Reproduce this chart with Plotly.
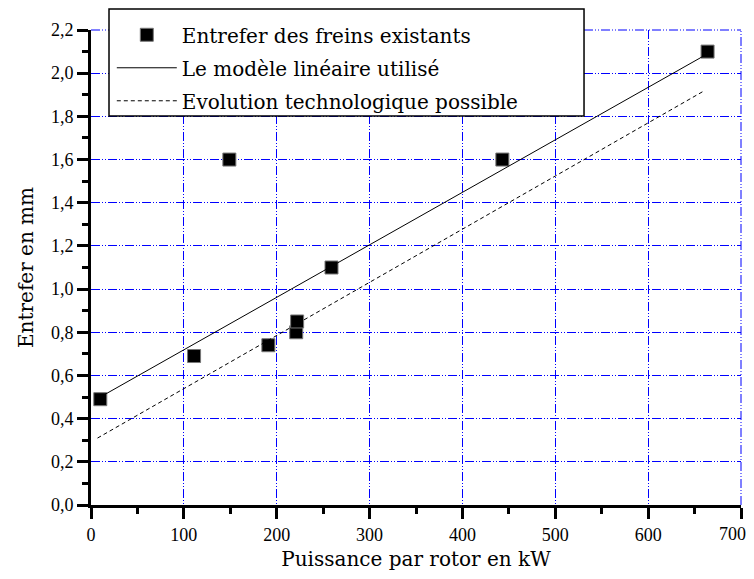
import plotly.graph_objects as go

# mesures des freins existants
puissance_kw = [10, 111, 149, 191, 221, 222, 259, 443, 664]
entrefer_mm = [0.49, 0.69, 1.60, 0.74, 0.80, 0.85, 1.10, 1.60, 2.10]

# modèle linéaire utilisé
modele_x = [10, 664]
modele_y = [0.50, 2.09]

# évolution technologique possible
evol_x = [7, 661]
evol_y = [0.31, 1.92]

# graduations de l'axe des abscisses (le libellé 700 est posé à part pour rester visible)
x_tick_vals = [0, 100, 200, 300, 400, 500, 600, 700]
x_tick_text = ["0", "100", "200", "300", "400", "500", "600", ""]
x_last_label = "700"

serif = "Liberation Serif, Times New Roman, serif"
wide_serif = "DejaVu Serif, serif"
grid_blue = "#0000FF"
grid_dash = "9px,2px,1px,2px,1px,2px"

fig = go.Figure()
fig.add_trace(go.Scatter(
    x=puissance_kw, y=entrefer_mm, mode="markers",
    name="Entrefer des freins existants", legendgroup="a",
    marker=dict(symbol="square", size=13, color="black",
                line=dict(color="#777777", width=1)),
    cliponaxis=False))
fig.add_trace(go.Scatter(
    x=modele_x, y=modele_y, mode="lines",
    name="Le modèle linéaire utilisé", legendgroup="b",
    line=dict(color="black", width=1)))
fig.add_trace(go.Scatter(
    x=evol_x, y=evol_y, mode="lines",
    name="Evolution technologique possible", legendgroup="c",
    line=dict(color="black", width=1, dash="4px,3px")))

grid = dict(showgrid=True, gridcolor=grid_blue, gridwidth=1, griddash=grid_dash)
minor_style = dict(ticks="outside", ticklen=6, tickwidth=3, tickcolor="black",
                   showgrid=False, gridcolor=grid_blue, griddash=grid_dash)

fig.update_xaxes(range=[0, 700], tickmode="array", tickvals=x_tick_vals,
                 ticktext=x_tick_text, **grid, automargin=False,
                 showline=True, linecolor="black", linewidth=3,
                 ticks="outside", ticklen=11, tickwidth=3, tickcolor="black",
                 minor=dict(dtick=50, tick0=0, **minor_style),
                 zeroline=False,
                 tickfont=dict(family=serif, size=18, color="black"),
                 title=dict(text="Puissance par rotor en kW", standoff=12,
                            font=dict(family=wide_serif, size=20, color="black")))
fig.update_yaxes(range=[0, 2.2], dtick=0.2, tick0=0, tickformat=".1f", **grid,
                 automargin=False,
                 showline=True, linecolor="black", linewidth=3,
                 ticks="outside", ticklen=11, tickwidth=3, tickcolor="black",
                 minor=dict(dtick=0.1, tick0=0, **minor_style),
                 zeroline=False,
                 tickfont=dict(family=serif, size=18, color="black"),
                 title=dict(text="Entrefer en mm", standoff=12,
                            font=dict(family=wide_serif, size=20, color="black")))

fig.add_annotation(x=x_tick_vals[-1], xref="x", y=0, yref="paper",
                   text=x_last_label, showarrow=False,
                   xanchor="center", xshift=-9, yanchor="top", yshift=-17,
                   font=dict(family=serif, size=18, color="black"))

# plotly n'affiche pas la grille aux bords : lignes du haut et de droite
fig.add_shape(type="line", xref="paper", yref="paper", x0=0, x1=1, y0=1, y1=1,
              line=dict(color=grid_blue, width=1, dash=grid_dash), layer="above")
fig.add_shape(type="line", xref="paper", yref="paper", x0=1, x1=1, y0=0, y1=1,
              line=dict(color=grid_blue, width=1, dash=grid_dash), layer="above")

# cadre blanc de la légende
fig.add_shape(type="rect", xref="paper", yref="paper",
              x0=0.0277, x1=0.7585, y0=0.819, y1=1.044,
              fillcolor="white", line=dict(color="black", width=1.5),
              layer="above")

# la page ajoute une marge de 8 px autour de la figure
fig.update_layout(
    width=738, height=563,
    margin=dict(l=83, r=5, t=22, b=66, autoexpand=False),
    plot_bgcolor="white", paper_bgcolor="white",
    separators=", ",
    showlegend=True,
    legend=dict(x=0.032, y=1.031, xanchor="left", yanchor="top",
                bgcolor="rgba(0,0,0,0)", borderwidth=0,
                itemwidth=60, tracegroupgap=4,
                font=dict(family=wide_serif, size=20, color="black")),
)

fig.write_html("out.html")
